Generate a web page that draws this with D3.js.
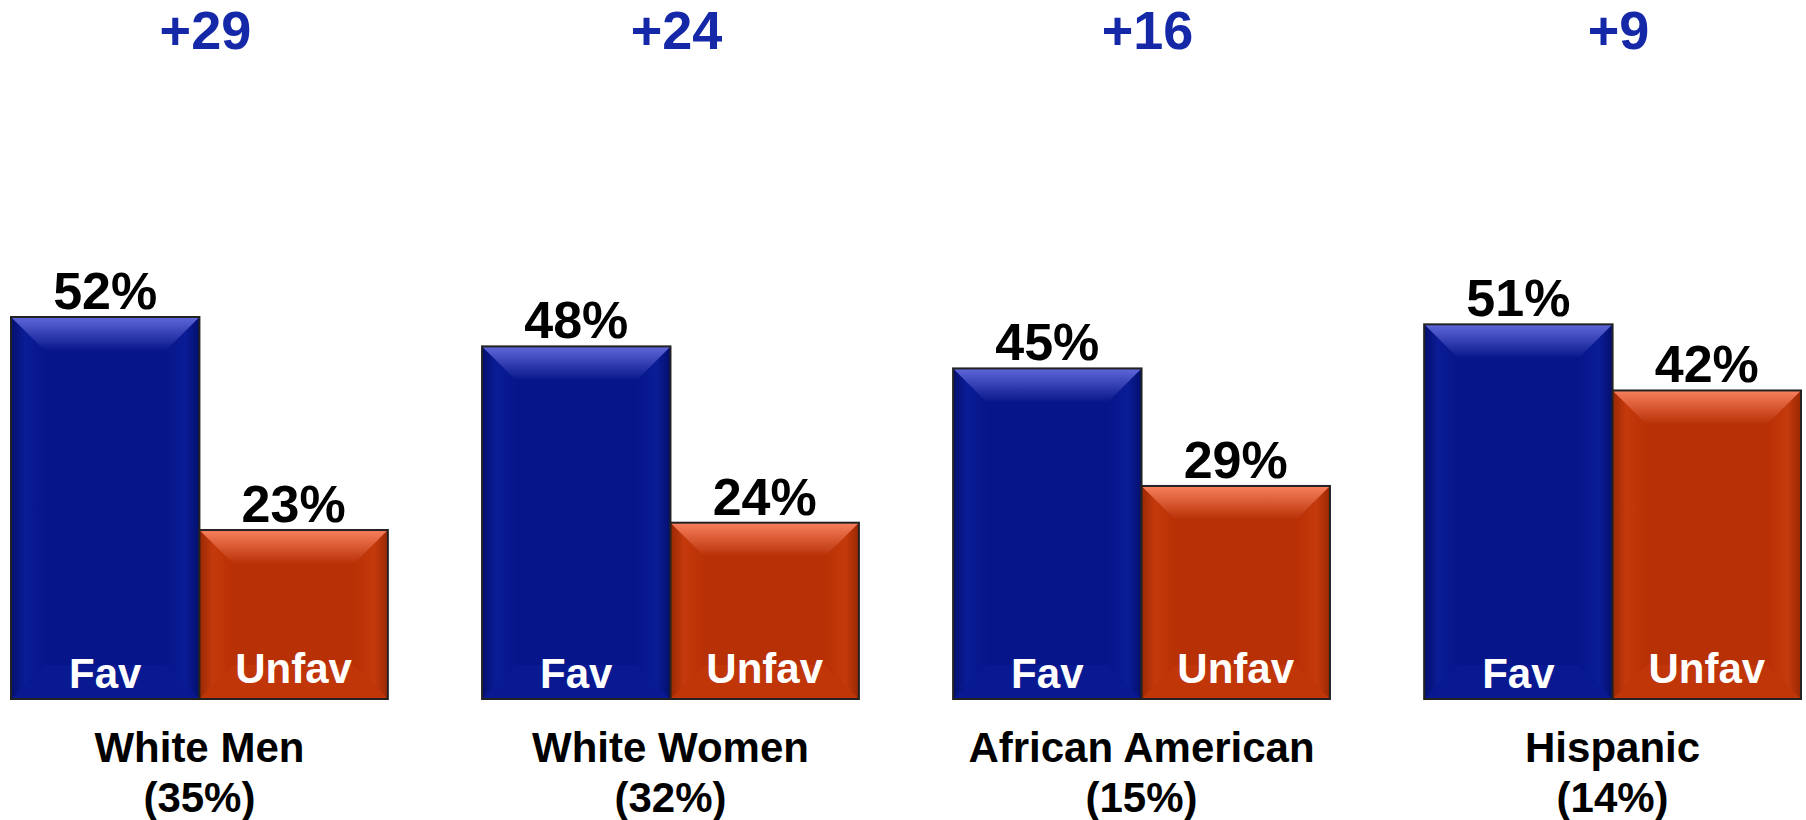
<!DOCTYPE html>
<html lang="en">
<head>
<meta charset="UTF-8">
<title>Fav / Unfav by group</title>
<script src="https://d3js.org/d3.v7.min.js"></script>
<style>
  body { margin: 0; background: #fff; }
  text { font-family: "Liberation Sans", Arial, Helvetica, sans-serif; font-weight: bold; }
</style>
</head>
<body>
<div id="chart"></div>
<script>
// data
var categories = ["White Men", "White Women", "African American", "Hispanic"];
var shares = ["(35%)", "(32%)", "(15%)", "(14%)"];
var series = ["Fav", "Unfav"];
var favValues = [52, 48, 45, 51];
var unfavValues = [23, 24, 29, 42];
var netLabels = ["+29", "+24", "+16", "+9"];

var width = 1806, height = 820;
var baseY = 699;

var svg = d3.select("#chart").append("svg")
    .attr("width", width)
    .attr("height", height);

var x0 = d3.scaleBand().domain(categories).range([11, 1801]).paddingInner(0.2).paddingOuter(0);
var x1 = d3.scaleBand().domain(series).range([0, x0.bandwidth()]).padding(0);
var y = d3.scaleLinear().domain([0, 52]).range([baseY, 317]);

var palette = {
    Fav: { base: "#06168a", light: "#6068da", side: "#0a1c96", dark: "#040f6c" },
    Unfav: { base: "#b83005", light: "#f8805e", side: "#c53a0c", dark: "#9a2804" }
};

var defs = svg.append("defs");
series.forEach(function(s) {
    var g = defs.append("linearGradient").attr("id", "top-" + s)
        .attr("x1", 0).attr("y1", 0).attr("x2", 0).attr("y2", 1);
    g.append("stop").attr("offset", "0%").attr("stop-color", palette[s].light);
    g.append("stop").attr("offset", "100%").attr("stop-color", palette[s].base);
    var l = defs.append("linearGradient").attr("id", "left-" + s)
        .attr("x1", 0).attr("y1", 0).attr("x2", 1).attr("y2", 0);
    l.append("stop").attr("offset", "0%").attr("stop-color", palette[s].dark);
    l.append("stop").attr("offset", "40%").attr("stop-color", palette[s].side);
    l.append("stop").attr("offset", "100%").attr("stop-color", palette[s].base);
    var r = defs.append("linearGradient").attr("id", "right-" + s)
        .attr("x1", 0).attr("y1", 0).attr("x2", 1).attr("y2", 0);
    r.append("stop").attr("offset", "0%").attr("stop-color", palette[s].base);
    r.append("stop").attr("offset", "60%").attr("stop-color", palette[s].side);
    r.append("stop").attr("offset", "100%").attr("stop-color", palette[s].dark);
});

var rows = categories.map(function(c, i) {
    return { cat: c, share: shares[i], net: netLabels[i],
        bars: [{ key: "Fav", value: favValues[i] }, { key: "Unfav", value: unfavValues[i] }] };
});

var groups = svg.selectAll(".grp")
    .data(rows)
    .enter().append("g")
    .attr("class", "grp")
    .attr("transform", function(d) { return "translate(" + x0(d.cat) + ",0)"; });

var bev = 34;
var bars = groups.selectAll(".bar")
    .data(function(d) { return d.bars; })
    .enter().append("g")
    .attr("class", "bar");

bars.each(function(d) {
    var g = d3.select(this);
    var bx = x1(d.key), bw = x1.bandwidth();
    var by = y(d.value), bh = baseY - by;
    g.append("rect")
        .attr("x", bx).attr("y", by).attr("width", bw).attr("height", bh)
        .attr("fill", palette[d.key].base);
    // bevel: left, right, bottom, top
    g.append("polygon")
        .attr("points", [[bx, by], [bx + bev, by + bev], [bx + bev, baseY - bev], [bx, baseY]].join(" "))
        .attr("fill", "url(#left-" + d.key + ")");
    g.append("polygon")
        .attr("points", [[bx + bw, by], [bx + bw - bev, by + bev], [bx + bw - bev, baseY - bev], [bx + bw, baseY]].join(" "))
        .attr("fill", "url(#right-" + d.key + ")");
    g.append("polygon")
        .attr("points", [[bx, baseY], [bx + bev, baseY - bev], [bx + bw - bev, baseY - bev], [bx + bw, baseY]].join(" "))
        .attr("fill", palette[d.key].side).attr("opacity", 0.6);
    g.append("polygon")
        .attr("points", [[bx, by], [bx + bev, by + bev], [bx + bw - bev, by + bev], [bx + bw, by]].join(" "))
        .attr("fill", "url(#top-" + d.key + ")");
    g.append("rect")
        .attr("x", bx).attr("y", by).attr("width", bw).attr("height", bh)
        .attr("fill", "none").attr("stroke", "#222").attr("stroke-width", 2);

    g.append("text")
        .attr("x", bx + bw / 2).attr("y", by - 8)
        .attr("text-anchor", "middle")
        .attr("font-size", 52)
        .attr("fill", "#000")
        .text(d.value + "%");
    g.append("text")
        .attr("x", bx + bw / 2).attr("y", d.key == "Fav" ? 688 : 683)
        .attr("text-anchor", "middle")
        .attr("font-size", 42)
        .attr("fill", "#fff")
        .text(d.key);
});

groups.append("text")
    .attr("x", x0.bandwidth() / 2)
    .attr("y", 762)
    .attr("text-anchor", "middle")
    .attr("font-size", 42)
    .attr("fill", "#000")
    .text(function(d) { return d.cat; });

groups.append("text")
    .attr("x", x0.bandwidth() / 2)
    .attr("y", 812)
    .attr("text-anchor", "middle")
    .attr("font-size", 42)
    .attr("fill", "#000")
    .text(function(d) { return d.share; });

groups.append("text")
    .attr("x", x0.bandwidth() / 2 + 6)
    .attr("y", 49)
    .attr("text-anchor", "middle")
    .attr("font-size", 54)
    .attr("fill", "#1428a8")
    .text(function(d) { return d.net; });
</script>
</body>
</html>
